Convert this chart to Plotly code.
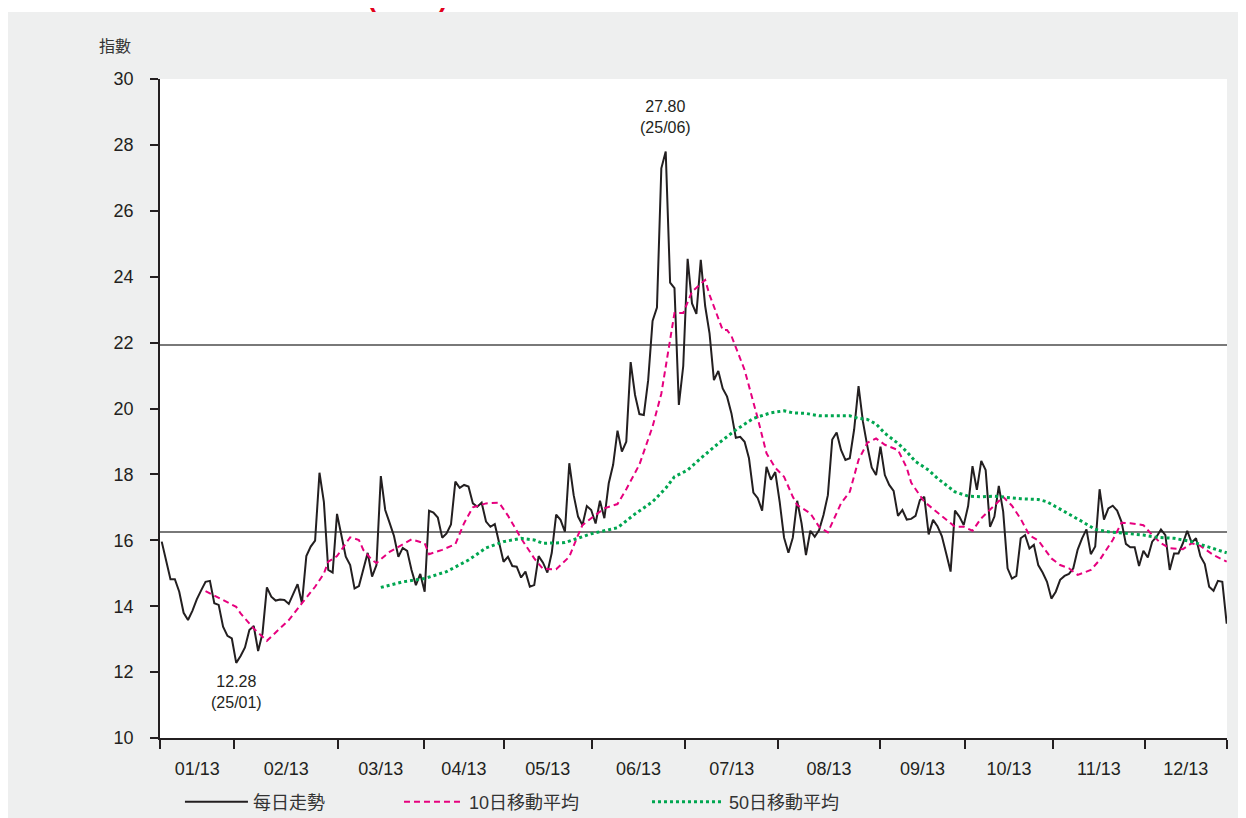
import plotly.graph_objects as go

# ---------------- data ----------------
daily = [15.96, 15.40, 14.82, 14.82, 14.44, 13.80, 13.58, 13.86, 14.21, 14.48,
         14.74, 14.77, 14.09, 14.04, 13.38, 13.10, 13.02, 12.28, 12.49, 12.75,
         13.28, 13.40, 12.64, 13.18, 14.57, 14.29, 14.17, 14.20, 14.19, 14.07,
         14.37, 14.67, 14.09, 15.52, 15.81, 15.99, 18.05, 17.17, 15.10, 15.02,
         16.80, 16.16, 15.50, 15.25, 14.54, 14.61, 15.10, 15.62, 14.90, 15.25,
         17.95, 16.92, 16.53, 16.13, 15.50, 15.77, 15.68, 15.10, 14.64, 14.98,
         14.44, 16.90, 16.84, 16.69, 16.08, 16.21, 16.48, 17.78, 17.59, 17.68,
         17.63, 17.12, 17.02, 17.14, 16.57, 16.41, 16.49, 15.91, 15.35, 15.50,
         15.22, 15.20, 14.87, 15.05, 14.59, 14.64, 15.52, 15.32, 15.02, 15.62,
         16.78, 16.62, 16.26, 18.34, 17.37, 16.72, 16.46, 17.04, 16.92, 16.51,
         17.20, 16.67, 17.73, 18.29, 19.33, 18.69, 18.99, 21.41, 20.41, 19.83,
         19.80, 20.86, 22.66, 23.06, 27.29, 27.80, 23.82, 23.65, 20.11, 21.29,
         24.54, 23.19, 22.87, 24.51, 23.11, 22.28, 20.86, 21.14, 20.61, 20.36,
         19.85, 19.11, 19.14, 18.99, 18.49, 17.45, 17.28, 16.90, 18.23, 17.84,
         18.07, 17.17, 16.08, 15.62, 16.08, 17.20, 16.51, 15.55, 16.29, 16.11,
         16.31, 16.77, 17.37, 19.06, 19.27, 18.74, 18.44, 18.49, 19.37, 20.68,
         19.60, 18.86, 18.21, 17.98, 18.84, 17.98, 17.68, 17.50, 16.74, 16.92,
         16.63, 16.65, 16.74, 17.22, 17.32, 16.18, 16.62, 16.43, 16.13, 15.60,
         15.05, 16.90, 16.72, 16.46, 17.04, 18.25, 17.53, 18.41, 18.13, 16.41,
         16.72, 17.65, 16.87, 15.15, 14.84, 14.92, 16.06, 16.16, 15.75, 15.86,
         15.25, 15.02, 14.74, 14.23, 14.44, 14.80, 14.92, 14.98, 15.15, 15.72,
         16.06, 16.33, 15.58, 15.81, 17.55, 16.63, 16.97, 17.05, 16.90, 16.56,
         15.89, 15.79, 15.79, 15.22, 15.68, 15.48, 15.96, 16.11, 16.33, 16.16,
         15.10, 15.60, 15.60, 15.91, 16.29, 15.93, 16.06, 15.52, 15.28, 14.59,
         14.47, 14.77, 14.74, 13.47]
days = list(range(len(daily)))

ma10_day = [10, 17, 18, 21, 24, 29, 32, 35, 37, 38, 40, 43, 45, 46, 48, 49, 52, 57,
            60, 61, 64, 67, 69, 71, 74, 77, 79, 82, 85, 87, 90, 93, 95, 96, 98, 101,
            104, 106, 109, 112, 114, 116, 117, 119, 121, 124, 125, 128, 129, 130,
            133, 136, 138, 140, 142, 144, 145, 148, 150, 152, 153, 155, 157, 159,
            161, 163, 165, 168, 170, 171, 174, 177, 179, 181, 183, 185, 187, 190,
            192, 194, 196, 198, 200, 203, 205, 207, 209, 212, 214, 217, 219, 221,
            224, 226, 228, 230, 233, 235, 237, 240, 243]
ma10_val = [14.46, 13.98, 13.78, 13.32, 12.95, 13.58, 14.09, 14.59, 14.99, 15.35,
            15.52, 16.09, 16.01, 15.71, 15.40, 15.31, 15.65, 16.03, 15.91, 15.58,
            15.71, 15.88, 16.52, 17.00, 17.12, 17.14, 16.75, 16.06, 15.45, 15.13,
            15.12, 15.50, 16.16, 16.46, 16.67, 16.97, 17.10, 17.55, 18.30, 19.45,
            20.45, 22.08, 22.90, 22.90, 23.55, 23.90, 23.45, 22.38, 22.38, 22.20,
            21.17, 19.70, 18.64, 18.20, 17.93, 17.32, 17.07, 16.82, 16.41, 16.24,
            16.52, 17.12, 17.47, 18.44, 18.96, 19.09, 18.90, 18.74, 18.20, 17.75,
            17.17, 16.84, 16.63, 16.41, 16.41, 16.29, 16.67, 17.07, 17.32, 17.05,
            16.65, 16.15, 16.00, 15.45, 15.25, 15.15, 14.95, 15.10, 15.40, 16.01,
            16.53, 16.52, 16.46, 16.16, 15.91, 15.76, 15.73, 15.91, 15.83, 15.55,
            15.35]

ma50_day = [50, 55, 60, 65, 70, 74, 78, 82, 85, 87, 92, 95, 98, 104, 108, 112, 115,
            117, 120, 123, 127, 131, 135, 139, 142, 144, 147, 150, 157, 159, 161,
            163, 165, 168, 170, 172, 175, 177, 179, 181, 184, 187, 190, 193, 196,
            200, 202, 204, 207, 210, 213, 216, 220, 224, 227, 231, 235, 238, 243]
ma50_val = [14.57, 14.74, 14.84, 15.05, 15.40, 15.77, 15.96, 16.06, 16.01, 15.91,
            15.93, 16.06, 16.20, 16.38, 16.80, 17.17, 17.58, 17.93, 18.13, 18.49,
            18.94, 19.35, 19.70, 19.87, 19.93, 19.87, 19.85, 19.78, 19.78, 19.70,
            19.67, 19.53, 19.25, 18.94, 18.69, 18.39, 18.13, 17.88, 17.68, 17.47,
            17.34, 17.32, 17.34, 17.30, 17.26, 17.24, 17.17, 17.02, 16.80, 16.57,
            16.33, 16.26, 16.21, 16.16, 16.09, 16.06, 15.96, 15.83, 15.62]

ref_levels = [21.93, 16.25]

month_labels = ["01/13", "02/13", "03/13", "04/13", "05/13", "06/13",
                "07/13", "08/13", "09/13", "10/13", "11/13", "12/13"]

series_names = ["每日走勢", "10日移動平均", "50日移動平均"]

peak_day, peak_label = 115, "27.80<br>(25/06)"
low_day, low_label = 17, "12.28<br>(25/01)"

# ---------------- layout helpers (positions, styles) ----------------
x_range = [-0.39, 243.07]
month_bounds = [-0.38, 16.6, 40.2, 59.8, 78.1, 98.1, 119.5, 140.6, 163.9,
                183.3, 203.4, 224.3, 243.06]
label_pos = [(a + b) / 2 for a, b in zip(month_bounds[:-1], month_bounds[1:])]

FONT = "Liberation Sans, Arial, Helvetica, sans-serif"
LEG_FONT = "Liberation Sans, Noto Sans CJK TC, sans-serif"
INK = "#231f20"
GREY_BG = "#eeefef"

fig = go.Figure()
fig.add_trace(go.Scatter(x=days, y=daily, mode="lines", name=series_names[0],
                         legend="legend",
                         line=dict(color=INK, width=2)))
fig.add_trace(go.Scatter(x=ma10_day, y=ma10_val, mode="lines", name=series_names[1],
                         legend="legend2",
                         line=dict(color="#e6007e", width=2, dash="6px,4px")))
fig.add_trace(go.Scatter(x=ma50_day, y=ma50_val, mode="lines", name=series_names[2],
                         legend="legend3",
                         line=dict(color="#00a650", width=3, dash="3px,3px")))

for lv in ref_levels:
    fig.add_shape(type="line", xref="paper", x0=0, x1=1, yref="y", y0=lv, y1=lv,
                  line=dict(color="#4d4d4d", width=1.5), layer="below")

# thin white strip at the very top of the grey panel
fig.add_shape(type="rect", xref="paper", yref="paper", x0=-0.2, x1=1.05,
              y0=1.1017, y1=1.2, line=dict(width=0), fillcolor="white", layer="below")

fig.add_annotation(x=peak_day, y=daily[peak_day], text=peak_label, showarrow=False,
                   yanchor="bottom", yshift=13, font=dict(size=16, color=INK, family=FONT))
fig.add_annotation(x=low_day, y=daily[low_day], text=low_label, showarrow=False,
                   yanchor="top", yshift=-8, font=dict(size=16, color=INK, family=FONT))
fig.add_annotation(xref="paper", yref="paper", x=-0.0422, y=1.0516, text="指數",
                   xanchor="center", yanchor="middle", showarrow=False,
                   font=dict(size=16, color="#333333",
                             family="Noto Sans CJK TC, sans-serif"))
fig.add_annotation(xref="paper", yref="paper", x=0.2315, y=1.0985,
                   xanchor="center", yanchor="bottom",
                   text="<b>(VHSI)</b>", showarrow=False,
                   font=dict(size=27, color="#e2001a", family=FONT))

leg_common = dict(orientation="h", yanchor="middle", xanchor="left", y=-0.0971,
                  bgcolor="rgba(0,0,0,0)", borderwidth=0,
                  font=dict(size=18, color="#333333", family=LEG_FONT))

fig.update_layout(
    width=1230, height=810,
    margin=dict(l=152, r=11, t=71, b=80, pad=0, autoexpand=False),
    paper_bgcolor=GREY_BG, plot_bgcolor="white",
    font=dict(family=FONT, color=INK),
    showlegend=True,
    legend=dict(x=0.0187, itemwidth=63, **leg_common),
    legend2=dict(x=0.2240, itemwidth=60, **leg_common),
    legend3=dict(x=0.4564, itemwidth=72, **leg_common),
    xaxis=dict(range=x_range, showgrid=False, zeroline=False, showline=True,
               linecolor=INK, linewidth=1.5, tickmode="array", tickvals=label_pos,
               ticktext=month_labels, ticks="", ticklabelstandoff=14,
               tickfont=dict(size=18, color=INK, family=FONT),
               minor=dict(tickmode="array", tickvals=month_bounds, ticks="outside",
                          ticklen=9, tickwidth=1.5, tickcolor=INK, showgrid=False)),
    yaxis=dict(range=[10, 30], showgrid=False, zeroline=False, showline=True,
               linecolor=INK, linewidth=1.5, tickmode="array",
               tickvals=list(range(10, 31, 2)), ticks="outside", ticklen=8,
               tickwidth=1.5, tickcolor=INK, ticklabelstandoff=13,
               tickfont=dict(size=18, color=INK, family=FONT)),
)

fig.write_html("out.html")
